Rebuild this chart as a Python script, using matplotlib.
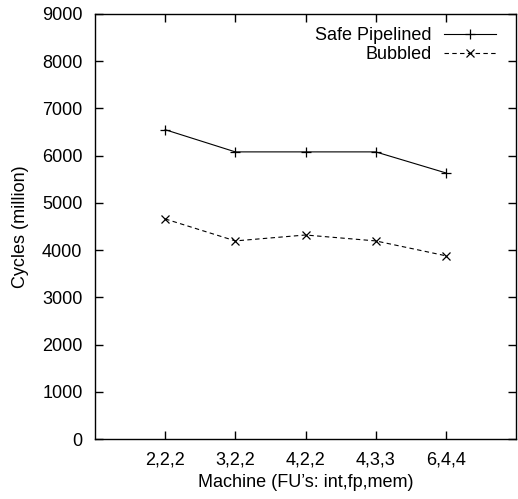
import matplotlib
matplotlib.use('Agg')
import matplotlib.pyplot as plt

# data
machines = ['2,2,2', '3,2,2', '4,2,2', '4,3,3', '6,4,4']
safe_pipelined = [6550, 6080, 6080, 6080, 5635]
bubbled = [4660, 4195, 4320, 4195, 3880]

plt.rcParams['font.family'] = ['Liberation Sans', 'DejaVu Sans']
plt.rcParams['font.size'] = 13

fig = plt.figure(figsize=(5.18, 4.99), dpi=100)
ax = fig.add_axes([95 / 518, 60 / 499, 421 / 518, 425 / 499])

xs = list(range(1, len(machines) + 1))
ax.plot(xs, safe_pipelined, color='black', lw=0.8, marker='+', ms=7, mew=0.9,
        label='Safe Pipelined')
ax.plot(xs, bubbled, color='black', lw=0.8, ls=(0, (4, 3)), marker='x', ms=6, mew=0.9,
        label='Bubbled')

ax.set_xlim(0, 6)
ax.set_ylim(0, 9000)
ax.set_xticks(xs)
ax.set_xticklabels(machines)
ax.set_yticks(range(0, 9001, 1000))
ax.tick_params(direction='in', top=True, right=True, length=6, width=1, pad=9)
for s in ax.spines.values():
    s.set_linewidth(1)

ax.set_xlabel("Machine (FU\u2019s: int,fp,mem)", labelpad=4)
ax.set_ylabel('Cycles (million)', labelpad=9)

ax.legend(loc='upper right', frameon=False, markerfirst=False, handlelength=2.9,
          borderaxespad=0.1, labelspacing=0.1, handletextpad=0.7,
          bbox_to_anchor=(0.975, 0.99))

fig.savefig('out.png', dpi=100)
